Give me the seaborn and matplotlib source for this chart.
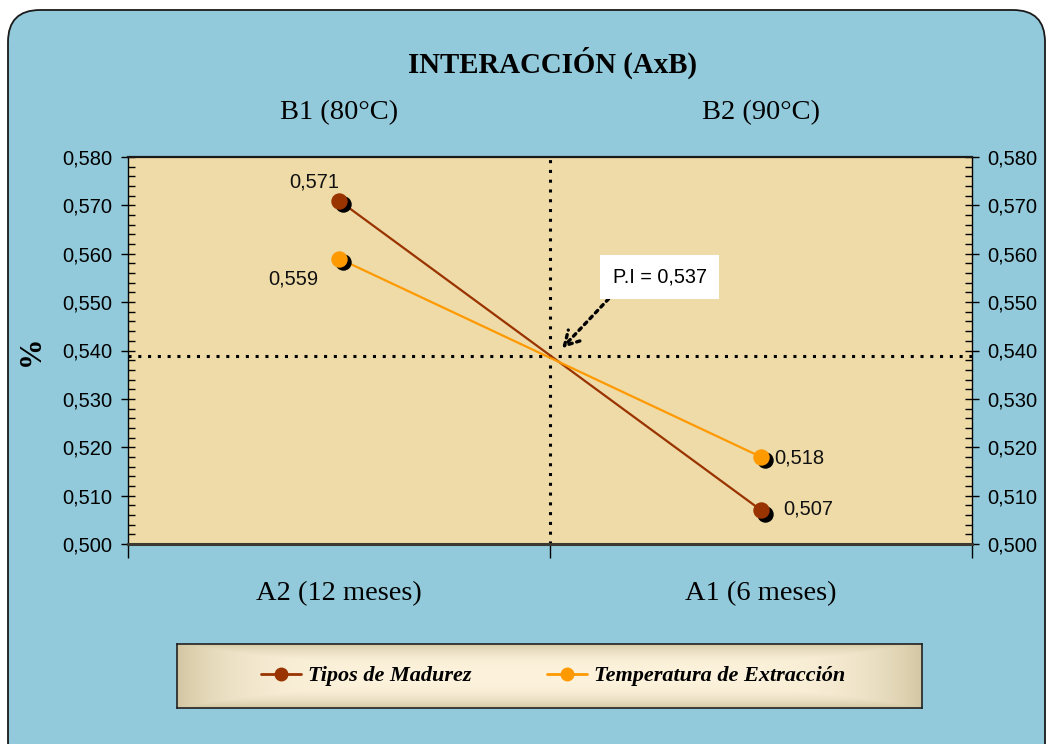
import numpy as np
import pandas as pd
import matplotlib
matplotlib.use("Agg")
import matplotlib.pyplot as plt
import matplotlib.transforms as mtransforms
from matplotlib.patches import FancyBboxPatch
from matplotlib.lines import Line2D
import seaborn as sns

# ---- data ----
bottom_labels = ["A2 (12 meses)", "A1 (6 meses)"]
top_labels = ["B1 (80°C)", "B2 (90°C)"]
series_names = ["Tipos de Madurez", "Temperatura de Extracción"]
madurez = [0.571, 0.507]
temperatura = [0.559, 0.518]
value_labels_madurez = ["0,571", "0,507"]
value_labels_temp = ["0,559", "0,518"]
pi_level = 0.5388
pi_text = "P.I = 0,537"
y_ticks = [0.500, 0.510, 0.520, 0.530, 0.540, 0.550, 0.560, 0.570, 0.580]

colors = {"Tipos de Madurez": "#993300", "Temperatura de Extracción": "#FF9900"}

n = len(bottom_labels)
pos = [(i + 0.5) / n for i in range(n)]
df = pd.DataFrame({
    "pos": pos * 2,
    "valor": madurez + temperatura,
    "serie": [series_names[0]] * n + [series_names[1]] * n,
})

sns.set_theme(style="white")
plt.rcParams["font.family"] = ["Liberation Sans", "DejaVu Sans"]
plt.rcParams["text.color"] = "black"
plt.rcParams["axes.labelcolor"] = "black"
plt.rcParams["xtick.color"] = "black"
plt.rcParams["ytick.color"] = "black"

W, H = 1053, 744
fig = plt.figure(figsize=(W / 100, H / 100), dpi=100)
fig.patch.set_facecolor("white")

# rounded light-blue panel
panel = FancyBboxPatch((0.08, -0.3), 10.37, 7.64,
                       boxstyle="round,pad=0,rounding_size=0.32",
                       transform=fig.dpi_scale_trans,
                       facecolor="#92CADB", edgecolor="#1a1a1a", linewidth=1.3,
                       zorder=-10)
fig.patches.append(panel)

def fx(px):
    return px / W

def fy(py):
    return 1 - py / H

ax = fig.add_axes([fx(128), fy(544), fx(972) - fx(128), fy(157) - fy(544)])
ax.set_facecolor("#EEDBA7")

sns.lineplot(data=df, x="pos", y="valor", hue="serie", palette=colors,
             linewidth=1.6, legend=False, ax=ax, zorder=3)

# marker shadows, then markers
shadow = mtransforms.offset_copy(ax.transData, fig=fig, x=3.5, y=-3.5, units="dots")
for name, vals in zip(series_names, [madurez, temperatura]):
    ax.scatter(pos, vals, s=140, color="black", transform=shadow, zorder=4,
               linewidths=0)
    ax.scatter(pos, vals, s=140, color=colors[name], zorder=5, linewidths=0)

# reference dotted lines
ax.axvline(0.5, color="black", linestyle=(0, (1, 2.2)), linewidth=2.2, zorder=2)
ax.axhline(pi_level, color="black", linestyle=(0, (1, 2.2)), linewidth=2.2, zorder=2)

# value labels
lab_kw = dict(fontsize=14.5, color="#111111", zorder=6)
ax.text(pos[0] + 0.0, madurez[0] + 0.0038, value_labels_madurez[0], ha="right", va="center", **lab_kw)
ax.text(pos[0] - 0.024, temperatura[0] - 0.0043, value_labels_temp[0], ha="right", va="center", **lab_kw)
ax.text(pos[1] + 0.016, temperatura[1] - 0.0003, value_labels_temp[1], ha="left", va="center", **lab_kw)
ax.text(pos[1] + 0.026, madurez[1] + 0.0003, value_labels_madurez[1], ha="left", va="center", **lab_kw)

# intersection callout
ax.annotate(pi_text, xy=(0.5145, 0.5405), xytext=(0.630, 0.5552),
            ha="center", va="center", fontsize=14.3, zorder=7,
            bbox=dict(boxstyle="square,pad=0.62", facecolor="white", edgecolor="none"),
            arrowprops=dict(arrowstyle="->,head_length=0.7,head_width=0.4",
                            color="black", linestyle=(0, (1, 1.4)), linewidth=2.4,
                            shrinkA=0, shrinkB=0, relpos=(0.08, 0.0)))

# axes limits and ticks
ax.set_xlim(0, 1)
ax.set_ylim(0.500, 0.580)
ax.set_yticks(y_ticks)
ax.set_yticklabels([f"{v:.3f}".replace(".", ",") for v in y_ticks])
ax.set_yticks(np.arange(0.500, 0.5801, 0.002), minor=True)
ax.tick_params(axis="y", which="major", direction="inout", length=10, width=1,
               color="black", left=True, right=True, labelleft=True,
               labelright=True, labelsize=14.5, pad=6)
ax.tick_params(axis="y", which="minor", direction="in", length=5, width=1,
               color="black", left=True, right=True)

ax.set_xticks(pos)
ax.set_xticklabels(bottom_labels, fontfamily="Liberation Serif", fontsize=20.5)
ax.set_xticks([0, 0.5, 1], minor=True)
ax.tick_params(axis="x", which="major", length=0, pad=27)
ax.tick_params(axis="x", which="minor", direction="out", length=10, width=1,
               color="black", bottom=True)

top = ax.secondary_xaxis("top")
top.set_xticks(pos)
top.set_xticklabels(top_labels, fontfamily="Liberation Serif", fontsize=20.5)
top.tick_params(axis="x", length=0, pad=23)
top.spines["top"].set_visible(False)

ax.set_xlabel("")
ax.set_ylabel("%", fontfamily="Liberation Serif", fontweight="bold", fontsize=22,
              labelpad=12)

for side in ["left", "right"]:
    ax.spines[side].set_color("black")
    ax.spines[side].set_linewidth(1)
ax.spines["top"].set_color("#1a1a1a")
ax.spines["top"].set_linewidth(1.6)
ax.spines["bottom"].set_color("#3a3a32")
ax.spines["bottom"].set_linewidth(2.2)

fig.text(fx(553), fy(63), "INTERACCIÓN (AxB)", ha="center", va="center",
         fontfamily="Liberation Serif", fontweight="bold", fontsize=20.8)

# legend panel with soft radial shading
lax = fig.add_axes([fx(177), fy(708), fx(922) - fx(177), fy(644) - fy(708)])
gx = np.linspace(-1, 1, 300)
gy = np.linspace(-1, 1, 60)
GX, GY = np.meshgrid(gx, gy)
r = np.clip(np.maximum(np.abs(GX) ** 6, np.abs(GY) ** 3), 0, 1)
c_in = np.array([0.99, 0.95, 0.86])
c_out = np.array([0.83, 0.78, 0.64])
img = c_in[None, None, :] * (1 - r[..., None]) + c_out[None, None, :] * r[..., None]
lax.imshow(img, extent=[0, 1, 0, 1], aspect="auto", zorder=0)
lax.set_xlim(0, 1)
lax.set_ylim(0, 1)
lax.set_xticks([])
lax.set_yticks([])
for s in lax.spines.values():
    s.set_color("#222222")
    s.set_linewidth(1.2)

handles = [Line2D([], [], color=colors[nm], marker="o", markersize=9, linewidth=2)
           for nm in series_names]
leg = lax.legend(handles, series_names, loc="center", ncol=2, frameon=False,
                 handlelength=1.8, handletextpad=0.3, columnspacing=3.4,
                 prop={"family": "Liberation Serif", "style": "italic",
                       "weight": "bold", "size": 16})
leg.set_bbox_to_anchor((0.505, 0.5), transform=lax.transAxes)

fig.savefig("out.png", dpi=100, facecolor=fig.get_facecolor())
